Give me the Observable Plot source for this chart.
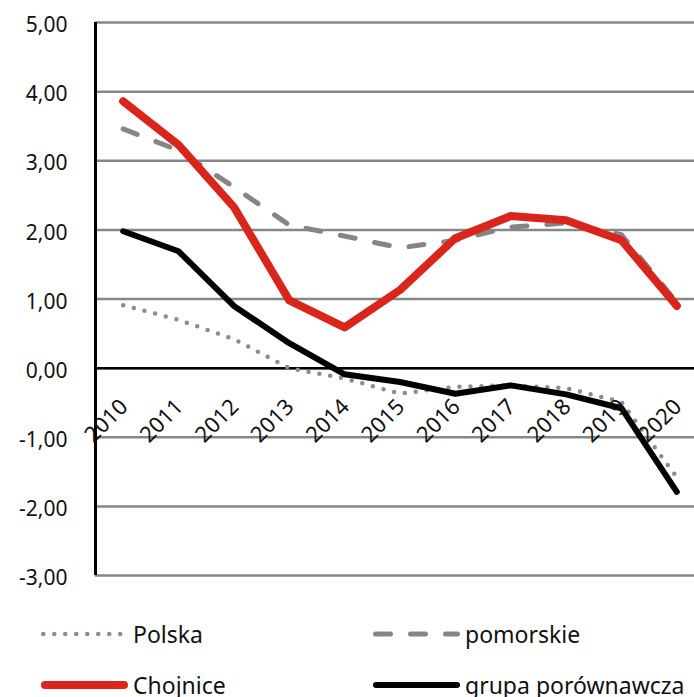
<!DOCTYPE html>
<html>
<head>
<meta charset="utf-8">
<script src="https://cdn.jsdelivr.net/npm/d3@7"></script>
<script src="https://cdn.jsdelivr.net/npm/@observablehq/plot@0.6"></script>
<style>
  html, body { margin: 0; padding: 0; background: #fff; }
  body { font-family: "Noto Sans", sans-serif; }
  #wrap { position: relative; width: 694px; height: 697px; overflow: hidden; }
  #legend { position: absolute; left: 0; top: 600px; width: 694px; height: 97px; }
  .item { position: absolute; display: flex; align-items: center; font-size: 23px; color: #111; white-space: nowrap; }
  .item svg { display: block; margin-right: 3px; }
</style>
</head>
<body>
<div id="wrap"><div id="chart"></div><div id="legend"></div></div>
<script>
const years = [2010, 2011, 2012, 2013, 2014, 2015, 2016, 2017, 2018, 2019, 2020];
const polska = [0.91, 0.70, 0.42, 0.00, -0.15, -0.37, -0.27, -0.25, -0.29, -0.49, -1.58];
const pomorskie = [3.46, 3.15, 2.62, 2.07, 1.91, 1.74, 1.85, 2.04, 2.10, 1.93, 0.95];
const chojnice = [3.86, 3.23, 2.33, 0.98, 0.59, 1.13, 1.88, 2.20, 2.14, 1.85, 0.90];
const grupa = [1.98, 1.69, 0.90, 0.36, -0.09, -0.20, -0.37, -0.25, -0.38, -0.58, -1.79];
const yTicks = [-3, -2, -1, 0, 1, 2, 3, 4, 5];
const yTickLabels = ["-3,00", "-2,00", "-1,00", "0,00", "1,00", "2,00", "3,00", "4,00", "5,00"];
const seriesNames = ["Polska", "pomorskie", "Chojnice", "grupa porównawcza"];
const xDomain = [2009.5, 2020.5];

const styles = {
  "Polska": {stroke: "#8c8c8c", strokeWidth: 4.5, strokeDasharray: "0,11", strokeLinecap: "round"},
  "pomorskie": {stroke: "#858585", strokeWidth: 5, strokeDasharray: "15,20", strokeLinecap: "round"},
  "Chojnice": {stroke: "#da251d", strokeWidth: 8, strokeLinecap: "round"},
  "grupa porównawcza": {stroke: "#000000", strokeWidth: 6, strokeLinecap: "round"}
};
const seriesVals = [polska, pomorskie, chojnice, grupa];
const data = seriesNames.map((name, i) => years.map((year, j) => ({year, value: seriesVals[i][j], name})));

const chart = Plot.plot({
  width: 694,
  height: 600,
  marginLeft: 95,
  marginRight: 0,
  marginTop: 22,
  marginBottom: 25,
  style: {fontFamily: "'Noto Sans', sans-serif", fontSize: "21px", color: "#111"},
  x: {domain: xDomain, range: [95, 704], axis: null},
  y: {domain: [yTicks[0], yTicks[yTicks.length - 1]], axis: null},
  marks: [
    Plot.gridY(yTicks, {stroke: "#878787", strokeOpacity: 1, strokeWidth: 2.5}),
    Plot.axisY(yTicks, {label: null, tickSize: 0, tickPadding: 28, tickFormat: (d) => yTickLabels[yTicks.indexOf(d)], fontSize: 21, fill: "#111", dy: 3}),
    Plot.ruleY([0], {stroke: "#000", strokeWidth: 2.5}),
    Plot.ruleX([xDomain[0]], {y1: yTicks[0], y2: yTicks[yTicks.length - 1], stroke: "#000", strokeWidth: 3}),
    ...seriesNames.map((name, i) =>
      Plot.line(data[i], {x: "year", y: "value", curve: "linear", strokeLinejoin: "round", ...styles[name]})
    ),
    Plot.text(years, {x: (d) => d, y: () => 0, text: (d) => String(d), rotate: -45, textAnchor: "end", lineAnchor: "middle", dy: 35, dx: 1, fontSize: 22, fill: "#111"})
  ]
});
document.getElementById("chart").appendChild(chart);

// legend
const legendPos = [
  {left: 40, top: 34}, {left: 372, top: 34}, {left: 40, top: 85}, {left: 372, top: 85}
];
const legend = document.getElementById("legend");
seriesNames.forEach((name, i) => {
  const s = styles[name];
  const el = document.createElement("div");
  el.className = "item";
  el.style.left = legendPos[i].left + "px";
  el.style.top = (legendPos[i].top - 16) + "px";
  el.style.height = "32px";
  const ns = "http://www.w3.org/2000/svg";
  const svg = document.createElementNS(ns, "svg");
  svg.setAttribute("width", 90);
  svg.setAttribute("height", 20);
  const ln = document.createElementNS(ns, "line");
  const pad = s.strokeWidth / 2 + 1;
  ln.setAttribute("x1", pad);
  ln.setAttribute("x2", 89 - pad);
  ln.setAttribute("y1", 10);
  ln.setAttribute("y2", 10);
  ln.setAttribute("stroke", s.stroke);
  ln.setAttribute("stroke-width", s.strokeWidth);
  ln.setAttribute("stroke-linecap", s.strokeLinecap);
  if (s.strokeDasharray) ln.setAttribute("stroke-dasharray", s.strokeDasharray);
  svg.appendChild(ln);
  el.appendChild(svg);
  const t = document.createElement("span");
  t.textContent = name;
  el.appendChild(t);
  legend.appendChild(el);
});
</script>
</body>
</html>
